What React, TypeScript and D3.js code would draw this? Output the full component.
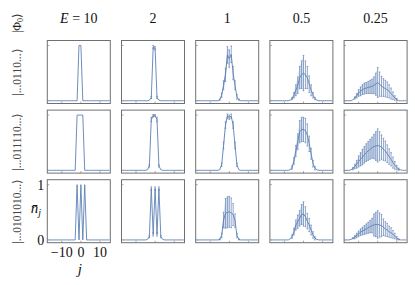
import React from 'react';
import * as d3 from 'd3';

// column headers (quench energy) and row labels (initial state)
const energies = ['10', '2', '1', '0.5', '0.25'];
const states = ['|...0110...\u27E9', '|...011110...\u27E9', '|...0101010...\u27E9'];

// lattice sites shown in every panel
const sites = d3.range(-17, 16);
const xTicks = [-10, 0, 10];
const yTicks = [0, 1];

// each panel: first site of the non-zero window, mean occupation, error bar
const start0110 = [-1, -3, -5, -7, -13];
const mean0110 = [
  [1, 1],
  [0.01, 0.06, 0.97, 0.95, 0.06, 0.01],
  [0.02, 0.1, 0.28, 0.47, 0.83, 0.76, 0.84, 0.5, 0.28, 0.07, 0.02],
  [0.01, 0.04, 0.1, 0.19, 0.28, 0.42, 0.47, 0.5, 0.47, 0.42, 0.3, 0.19, 0.1, 0.04, 0.01],
  [0.02, 0.05, 0.09, 0.14, 0.17, 0.2, 0.22, 0.23, 0.24, 0.25, 0.26, 0.28, 0.3, 0.33, 0.3, 0.26, 0.24, 0.22, 0.2, 0.17, 0.13, 0.09, 0.05, 0.02],
];
const err0110 = [
  [0, 0],
  [0, 0.02, 0.03, 0.03, 0.02, 0],
  [0.01, 0.04, 0.08, 0.12, 0.15, 0.16, 0.15, 0.12, 0.08, 0.04, 0.01],
  [0, 0.02, 0.05, 0.1, 0.15, 0.2, 0.25, 0.32, 0.25, 0.2, 0.15, 0.1, 0.05, 0.02, 0],
  [0, 0.02, 0.04, 0.06, 0.08, 0.09, 0.1, 0.1, 0.11, 0.12, 0.13, 0.15, 0.2, 0.27, 0.22, 0.18, 0.16, 0.15, 0.14, 0.12, 0.1, 0.07, 0.04, 0.02],
];

const start011110 = [-2, -4, -5, -7, -14];
const mean011110 = [
  [1, 1, 1, 1],
  [0.01, 0.08, 0.92, 0.99, 0.99, 0.92, 0.08, 0.01],
  [0.01, 0.1, 0.45, 0.82, 0.98, 0.96, 0.98, 0.82, 0.45, 0.1, 0.01],
  [0.01, 0.05, 0.17, 0.35, 0.52, 0.7, 0.74, 0.74, 0.72, 0.64, 0.48, 0.3, 0.12, 0.04, 0.01],
  [0.01, 0.03, 0.07, 0.11, 0.16, 0.2, 0.24, 0.28, 0.32, 0.35, 0.38, 0.41, 0.43, 0.44, 0.45, 0.44, 0.42, 0.38, 0.35, 0.3, 0.25, 0.2, 0.14, 0.09, 0.05, 0.02, 0.01],
];
const err011110 = [
  [0, 0, 0, 0],
  [0, 0.02, 0.04, 0.02, 0.02, 0.04, 0.02, 0],
  [0, 0.03, 0.06, 0.06, 0.04, 0.04, 0.04, 0.06, 0.06, 0.03, 0],
  [0, 0.03, 0.06, 0.1, 0.14, 0.2, 0.22, 0.22, 0.22, 0.2, 0.14, 0.1, 0.06, 0.03, 0],
  [0, 0.02, 0.04, 0.07, 0.1, 0.12, 0.14, 0.15, 0.16, 0.17, 0.18, 0.19, 0.22, 0.26, 0.3, 0.26, 0.22, 0.2, 0.18, 0.16, 0.14, 0.12, 0.1, 0.07, 0.04, 0.02, 0],
];

const start0101010 = [-2, -4, -5, -7, -14];
const mean0101010 = [
  [1, 0, 1, 0, 1],
  [0.01, 0.06, 0.93, 0.1, 0.93, 0.1, 0.93, 0.06, 0.01],
  [0.01, 0.08, 0.36, 0.48, 0.5, 0.51, 0.49, 0.46, 0.35, 0.08, 0.01],
  [0.02, 0.06, 0.15, 0.27, 0.33, 0.39, 0.46, 0.47, 0.42, 0.34, 0.27, 0.18, 0.09, 0.03, 0.01],
  [0.01, 0.03, 0.05, 0.08, 0.11, 0.14, 0.16, 0.18, 0.2, 0.22, 0.24, 0.26, 0.27, 0.28, 0.28, 0.27, 0.26, 0.23, 0.2, 0.18, 0.15, 0.13, 0.1, 0.07, 0.03, 0.01],
];
const err0101010 = [
  [0, 0, 0, 0, 0],
  [0, 0.02, 0.03, 0.03, 0.03, 0.03, 0.03, 0.02, 0],
  [0.01, 0.04, 0.14, 0.27, 0.28, 0.28, 0.27, 0.2, 0.12, 0.04, 0.01],
  [0, 0.03, 0.06, 0.09, 0.12, 0.14, 0.18, 0.22, 0.18, 0.14, 0.12, 0.09, 0.06, 0.03, 0],
  [0, 0.01, 0.03, 0.04, 0.05, 0.06, 0.07, 0.08, 0.09, 0.1, 0.11, 0.13, 0.2, 0.22, 0.25, 0.22, 0.2, 0.15, 0.13, 0.12, 0.1, 0.09, 0.07, 0.05, 0.03, 0.01],
];

const starts = [start0110, start011110, start0101010];
const means = [mean0110, mean011110, mean0101010];
const errs = [err0110, err011110, err0101010];

const BLUE = '#5E81B5';
const FRAME = '#707070';
const font = { fontFamily: "'Liberation Serif'" };

const panelW = 63;
const panelH = 63;
const left0 = 47.3;
const top0 = 40.5;
const colStep = 74.2;
const rowStep = 69.6;

interface Pt {
  j: number;
  n: number;
  e: number;
}

const x = d3.scaleLinear().domain([-17.6, 15.4]).range([0, panelW]);
const y = d3.scaleLinear().domain([-0.05, 1.09]).range([panelH, 0]);

const line = d3
  .line<Pt>()
  .x((d) => x(d.j))
  .y((d) => y(d.n));

const band = d3
  .area<Pt>()
  .x((d) => x(d.j))
  .y0((d) => y(d.n - d.e))
  .y1((d) => y(d.n + d.e));

function panelData(r: number, c: number): Pt[] {
  const s = starts[r][c];
  const m = means[r][c];
  const e = errs[r][c];
  return sites.map((j) => {
    const k = j - s;
    const inside = k >= 0 && k < m.length;
    return { j, n: inside ? m[k] : 0, e: inside ? e[k] : 0 };
  });
}

const Panel = ({ r, c }: { r: number; c: number }) => {
  const data = panelData(r, c);
  const withErr = data.filter((d) => d.e > 0.005);
  const leftBand = data.filter((d) => d.j <= 0 && d.j >= starts[r][c]);
  const tx = left0 + c * colStep;
  const ty = top0 + r * rowStep;
  return (
    <g transform={`translate(${tx},${ty})`}>
      {xTicks.map((t) => (
        <line key={`xt${t}`} x1={x(t)} x2={x(t)} y1={panelH} y2={panelH - 2} stroke={FRAME} strokeWidth={0.6} />
      ))}
      {yTicks.map((t) => (
        <line key={`yt${t}`} x1={0} x2={2} y1={y(t)} y2={y(t)} stroke={FRAME} strokeWidth={0.6} />
      ))}
      {withErr.length > 0 && (
        <path d={band(leftBand) ?? ''} fill={BLUE} fillOpacity={0.22} stroke="none" />
      )}
      <path d={line(data) ?? ''} fill="none" stroke={BLUE} strokeWidth={0.9} strokeLinejoin="round" />
      {withErr.map((d) => (
        <g key={d.j} stroke={BLUE} strokeWidth={0.7}>
          <line x1={x(d.j)} x2={x(d.j)} y1={y(d.n - d.e)} y2={y(d.n + d.e)} />
          <line x1={x(d.j) - 0.8} x2={x(d.j) + 0.8} y1={y(d.n - d.e)} y2={y(d.n - d.e)} />
          <line x1={x(d.j) - 0.8} x2={x(d.j) + 0.8} y1={y(d.n + d.e)} y2={y(d.n + d.e)} />
        </g>
      ))}
      <rect x={0} y={0} width={panelW} height={panelH} fill="none" stroke={FRAME} strokeWidth={1} />
    </g>
  );
};

export default function App() {
  const bottomY = top0 + 2 * rowStep;
  return (
    <svg width={415} height={285} style={{ position: 'absolute', left: 0, top: 0, background: '#fff', ...font }}>
      {/* column headers */}
      {energies.map((e, c) => (
        <text key={e} x={left0 + c * colStep + panelW / 2} y={23} textAnchor="middle" fontSize={14} fill="#111" style={font}>
          {c === 0 ? (
            <>
              <tspan fontStyle="italic">E</tspan> = {e}
            </>
          ) : (
            e
          )}
        </text>
      ))}

      {/* top-left corner label */}
      <text transform="translate(20.5,23) rotate(-90)" textAnchor="middle" fontSize={12} fill="#222" style={font}>
        |Φ<tspan fontSize={8} dy={2}>0</tspan>
        <tspan dy={-2}>{'\u27E9'}</tspan>
      </text>

      {/* row labels */}
      {states.map((s, r) => (
        <text
          key={s}
          transform={`translate(20.5,${top0 + r * rowStep + panelH / 2}) rotate(-90)`}
          textAnchor="middle"
          fontSize={11.5}
          fill="#444"
          style={font}
        >
          {s}
        </text>
      ))}

      {d3.range(3).map((r) => d3.range(5).map((c) => <Panel key={`${r}-${c}`} r={r} c={c} />))}

      {/* axes of the bottom-left panel */}
      {xTicks.map((t) => (
        <text key={t} x={left0 + x(t)} y={bottomY + panelH + 14} textAnchor="middle" fontSize={14} fill="#111" style={font}>
          {t < 0 ? `\u2212${-t}` : t}
        </text>
      ))}
      {yTicks.map((t) => (
        <text key={t} x={left0 - 3} y={bottomY + y(t) + 5} textAnchor="end" fontSize={14} fill="#111" style={font}>
          {t}
        </text>
      ))}
      <text x={left0 + x(0) - 1} y={bottomY + panelH + 31} textAnchor="middle" fontSize={15} fontStyle="italic" fill="#111" style={font}>
        j
      </text>
      <text x={36} y={bottomY + panelH / 2 + 2} textAnchor="middle" fontSize={15} fontStyle="italic" fill="#111" style={font}>
        {'n\u0304'}
        <tspan fontSize={10} dy={3}>j</tspan>
      </text>
    </svg>
  );
}
